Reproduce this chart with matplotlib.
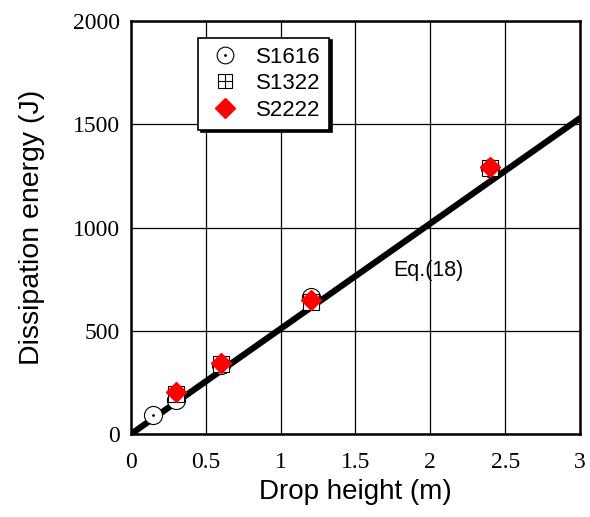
import numpy as np
import matplotlib.pyplot as plt

# drop height (m) and dissipation energy (J)
h_1616 = [0.15, 0.3, 0.6, 1.2, 2.4]
e_1616 = [92, 165, 332, 662, 1290]
h_1322 = [0.3, 0.6, 1.2, 2.4]
e_1322 = [195, 340, 640, 1290]
h_2222 = [0.3, 0.6, 1.2, 2.4]
e_2222 = [203, 344, 649, 1293]
eq_x = [0, 3]
eq_y = [0, 1530]

fig = plt.figure(figsize=(5.9, 5.17), dpi=100)
ax = fig.add_axes([0.222, 0.1605, 0.761, 0.7985])

ax.plot(eq_x, eq_y, color='black', lw=4.5, zorder=2)

ax.plot(h_1616, e_1616, 'o', ms=13, mfc='white', mec='black', mew=0.8, zorder=3)
ax.plot(h_1616, e_1616, '.', ms=2, color='black', zorder=3)
ax.plot(h_1322, e_1322, 's', ms=12, mfc='white', mec='black', mew=0.8, zorder=4)
ax.plot(h_1322, e_1322, '+', ms=12, color='black', mew=0.8, zorder=4)
ax.plot(h_2222, e_2222, 'D', ms=10, color='red', mec='red', zorder=5)

# legend handles
l1 = ax.plot([], [], 'o', ms=12, mfc='white', mec='black', mew=0.8)[0]
l1d = ax.plot([], [], '.', ms=2, color='black')[0]
l2 = ax.plot([], [], 's', ms=10, mfc='white', mec='black', mew=0.8)[0]
l2p = ax.plot([], [], '+', ms=10, color='black', mew=0.8)[0]
l3 = ax.plot([], [], 'D', ms=10, color='red')[0]
leg = ax.legend([(l1, l1d), (l2, l2p), l3], ['S1616', 'S1322', 'S2222'],
                loc='upper left', bbox_to_anchor=(0.149, 0.96), borderaxespad=0,
                fancybox=False, shadow={'color': 'black', 'alpha': 1},
                edgecolor='black', framealpha=1,
                prop={'family': 'Liberation Sans', 'size': 16},
                handlelength=1.6, handletextpad=0.6, borderpad=0.4, labelspacing=0.25)
leg.get_frame().set_linewidth(1.2)

ax.text(1.75, 794, 'Eq.(18)', fontsize=15.5, family='Liberation Sans', va='center')

ax.set_xlim(0, 3)
ax.set_ylim(0, 2000)
ax.set_xticks(np.arange(0, 3.01, 0.5))
ax.set_xticklabels(['0', '0.5', '1', '1.5', '2', '2.5', '3'])
ax.set_yticks([0, 500, 1000, 1500, 2000])
ax.grid(True, color='black', lw=0.9)
ax.set_axisbelow(True)
for s in ax.spines.values():
    s.set_linewidth(1.8)
ax.tick_params(direction='in', length=0)
ax.tick_params(axis='x', pad=13)
ax.tick_params(axis='y', pad=8)
for lab in ax.get_xticklabels() + ax.get_yticklabels():
    lab.set_family('Liberation Serif')
    lab.set_fontsize(17)

ax.set_xlabel('Drop height (m)', fontsize=20, family='Liberation Sans', labelpad=4)
ax.set_ylabel('Dissipation energy (J)', fontsize=20.5, family='Liberation Sans', labelpad=20)

fig.savefig('out.png', dpi=100)
